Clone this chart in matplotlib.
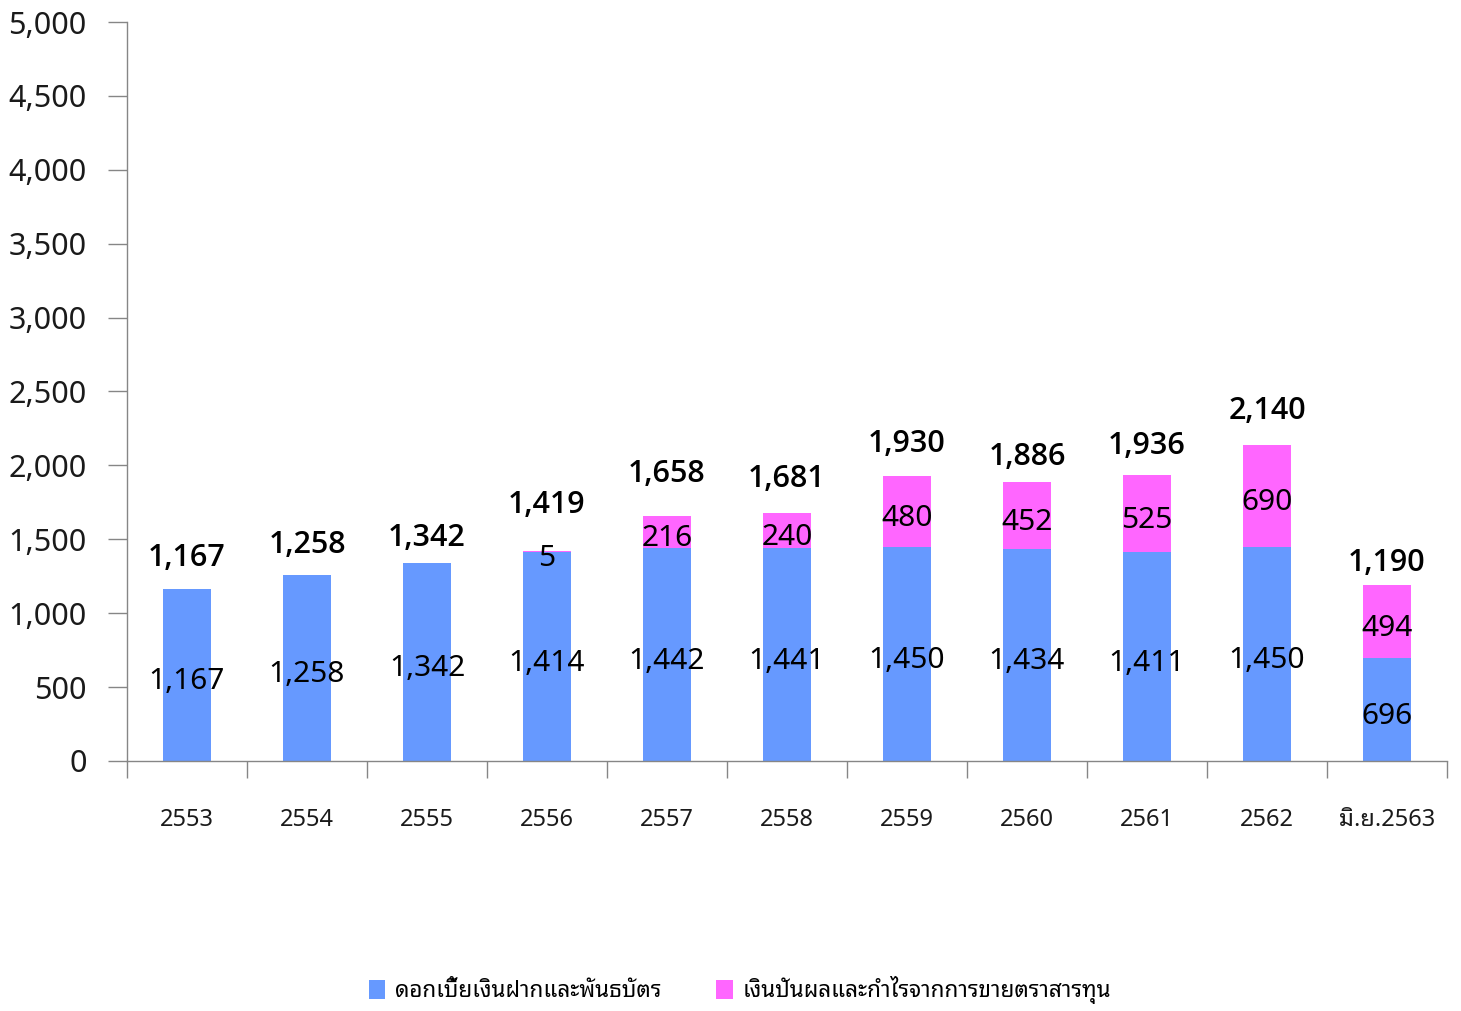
import matplotlib
matplotlib.use("Agg")
import matplotlib.pyplot as plt
from matplotlib.patches import Patch

FONT = ["Noto Sans Thai Looped", "Noto Sans Thai", "DejaVu Sans"]
BOLDFONT = ["Open Sans", "DejaVu Sans"]
plt.rcParams['font.family'] = FONT

categories = ["2553", "2554", "2555", "2556", "2557", "2558", "2559", "2560", "2561", "2562", "มิ.ย.2563"]
interest = [1167, 1258, 1342, 1414, 1442, 1441, 1450, 1434, 1411, 1450, 696]
dividend = [0, 0, 0, 5, 216, 240, 480, 452, 525, 690, 494]
totals = [1167, 1258, 1342, 1419, 1658, 1681, 1930, 1886, 1936, 2140, 1190]
series_names = ["ดอกเบี้ยเงินฝากและพันธบัตร", "เงินปันผลและกำไรจากการขายตราสารทุน"]
yticks = [0, 500, 1000, 1500, 2000, 2500, 3000, 3500, 4000, 4500, 5000]

# vertical offsets (points) of the total labels above each bar, as placed in the source
total_offsets = [22, 22, 18, 33, 30, 24, 23, 18, 21, 24, 16]

BLUE = "#6699FF"
PINK = "#FF66FF"
AXC = "#868686"
TXT = "#1a1a1a"

fig = plt.figure(figsize=(14.61, 10.11), dpi=100)
ax = fig.add_axes([127 / 1461, 1 - 761 / 1011, (1447 - 127) / 1461, (761 - 22) / 1011])

x = list(range(len(categories)))
w = 0.4
ax.bar(x, interest, width=w, color=BLUE, zorder=2)
ax.bar(x, dividend, width=w, bottom=interest, color=PINK, zorder=2)

for i in x:
    ax.annotate(f"{interest[i]:,}", (i, interest[i] / 2), xytext=(0, -5), textcoords="offset points",
                ha="center", va="center", fontsize=21.5, color="black", zorder=3)
    if dividend[i] > 0:
        ax.annotate(f"{dividend[i]:,}", (i, interest[i] + dividend[i] / 2), xytext=(0, -5),
                    textcoords="offset points", ha="center", va="center",
                    fontsize=21.5, color="black", zorder=3)
    ax.annotate(f"{totals[i]:,}", (i, totals[i]), xytext=(0, total_offsets[i]),
                textcoords="offset points", ha="center", va="center",
                fontsize=22, fontweight="semibold", family=BOLDFONT, color="black", zorder=3)

ax.set_xlim(-0.5, len(categories) - 0.5)
ax.set_ylim(0, 5000)
ax.set_yticks(yticks)
ax.set_yticklabels([f"{v:,}" for v in yticks], fontsize=22, color=TXT)
ax.tick_params(axis="y", direction="out", length=14, width=1, color=AXC, pad=15)

ax.set_xticks(x)
ax.set_xticklabels(categories, fontsize=17, color=TXT)
ax.tick_params(axis="x", length=0, pad=34)
ax.set_xticks([i - 0.5 for i in range(len(categories) + 1)], minor=True)
ax.tick_params(axis="x", which="minor", direction="out", length=12, width=1, color=AXC)

for s in ["top", "right"]:
    ax.spines[s].set_visible(False)
for s in ["left", "bottom"]:
    ax.spines[s].set_color(AXC)
    ax.spines[s].set_linewidth(1)

handles = [Patch(facecolor=BLUE, edgecolor="none"), Patch(facecolor=PINK, edgecolor="none")]
fig.legend(handles, series_names, loc="center", bbox_to_anchor=(740 / 1461, 1 - 990 / 1011),
           ncol=2, frameon=False, fontsize=16.2, handlelength=0.75, handleheight=0.95,
           handletextpad=0.45, columnspacing=2.4)

fig.savefig("out.png", dpi=100)
